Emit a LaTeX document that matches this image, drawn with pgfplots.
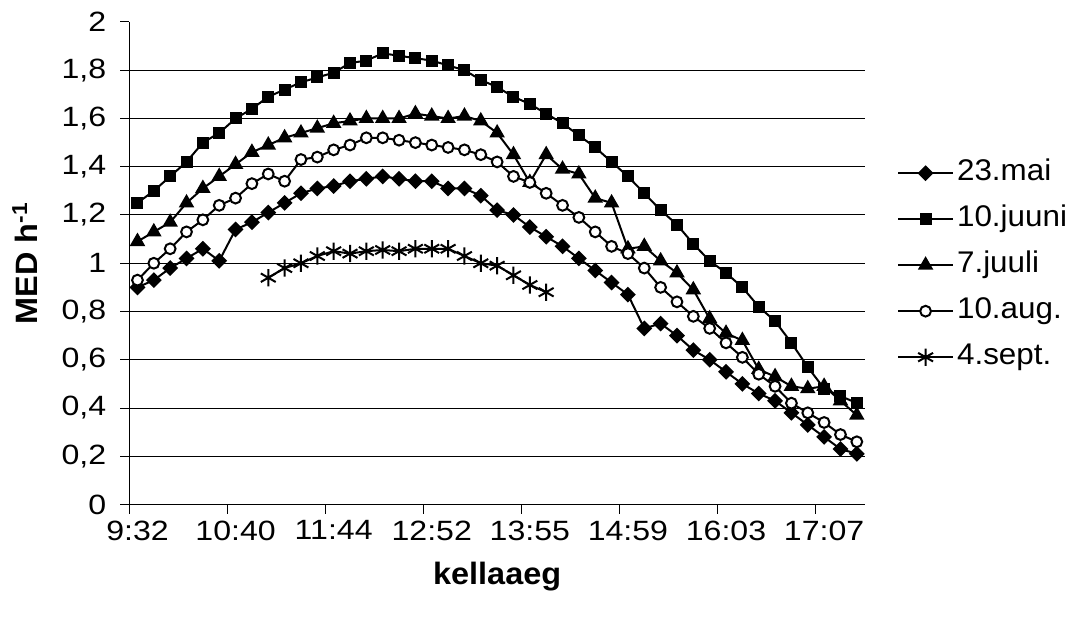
\documentclass[border=0pt]{standalone}
\usepackage{fontspec}
\setmainfont{Liberation Sans}[FakeStretch=1.05]
\newfontfamily\tickfont{Liberation Sans}[FakeStretch=1.15]
\usepackage{pgfplots}
\pgfplotsset{compat=1.18}
\begin{document}
\begin{tikzpicture}
\path[use as bounding box] (-64.65bp,-58.25bp) rectangle (471.35bp,252.25bp);
\begin{axis}[
  at={(0,0)}, anchor=south west,
  scale only axis, width=367.85bp, height=241.25bp,
  xmin=-0.5, xmax=44.5, ymin=0, ymax=2,
  axis x line*=bottom, axis y line*=left,
  axis line style={line width=0.5bp, black},
  /pgf/number format/assume math mode=true,
  xtick={0,6,...,42},
  xticklabels={9:32,10:40,11:44,12:52,13:55,14:59,16:03,17:07},
  major x tick style={draw=none},
  minor xtick={-0.5,5.5,11.5,17.5,23.5,29.5,35.5,41.5},
  minor x tick style={line width=0.5bp, black},
  minor tick length=4.5bp,
  major tick length=4.5bp,
  tick align=outside,
  ytick={0,0.2,0.4,0.6,0.8,1,1.2,1.4,1.6,1.8},
  extra y ticks={2},
  extra y tick style={grid=none},
  ymajorgrids,
  major grid style={line width=0.5bp, black},
  y tick style={line width=0.5bp, black},
  y tick label style={/pgf/number format/.cd, fixed, precision=1, use comma, /tikz/.cd, xshift=-3.5bp},
  tick label style={font=\tickfont\fontsize{14}{16}\selectfont},
  xlabel={kellaaeg},
  ylabel={MED h\textsuperscript{-1}},
  label style={font=\bfseries\fontsize{15.5}{18}\selectfont},
  xlabel style={at={(axis description cs:0.5,-0.1503)}, anchor=center},
  ylabel style={at={(axis description cs:-0.1418,0.5)}, anchor=center},
  legend style={at={(axis description cs:1,0.496)}, xshift=15.85bp, anchor=west,
    draw=none, fill=none, inner sep=0pt, row sep=5.5bp,
    font=\fontsize{15}{18}\selectfont,
    nodes={inner sep=1.5bp, text height=11bp, text depth=3.5bp}},
  legend cell align=left,
  legend image code/.code={\draw[mark repeat=2,mark phase=2] plot coordinates {(0bp,0bp) (13.75bp,0bp) (27.5bp,0bp)};},
]
% 23.mai
\addplot[black, line width=1bp, mark=square*, mark size=2.3bp, mark options={rotate=45, solid, fill=black}] coordinates {
(0,0.90) (1,0.93) (2,0.98) (3,1.02) (4,1.06) (5,1.01) (6,1.14) (7,1.17) (8,1.21) (9,1.25)
(10,1.29) (11,1.31) (12,1.32) (13,1.34) (14,1.35) (15,1.36) (16,1.35) (17,1.34) (18,1.34) (19,1.31)
(20,1.31) (21,1.28) (22,1.22) (23,1.20) (24,1.15) (25,1.11) (26,1.07) (27,1.02) (28,0.97) (29,0.92)
(30,0.87) (31,0.73) (32,0.75) (33,0.70) (34,0.64) (35,0.60) (36,0.55) (37,0.50) (38,0.46) (39,0.43)
(40,0.38) (41,0.33) (42,0.28) (43,0.23) (44,0.21)};
% 10.juuni
\addplot[black, line width=1bp, mark=square*, mark size=2.5bp, mark options={solid, fill=black}] coordinates {
(0,1.25) (1,1.30) (2,1.36) (3,1.42) (4,1.50) (5,1.54) (6,1.60) (7,1.64) (8,1.69) (9,1.72)
(10,1.75) (11,1.77) (12,1.79) (13,1.83) (14,1.84) (15,1.87) (16,1.86) (17,1.85) (18,1.84) (19,1.82)
(20,1.80) (21,1.76) (22,1.73) (23,1.69) (24,1.66) (25,1.62) (26,1.58) (27,1.53) (28,1.48) (29,1.42)
(30,1.36) (31,1.29) (32,1.22) (33,1.16) (34,1.08) (35,1.01) (36,0.96) (37,0.90) (38,0.82) (39,0.76)
(40,0.67) (41,0.57) (42,0.48) (43,0.45) (44,0.42)};
% 7.juuli
\addplot[black, line width=1bp, mark=triangle*, mark size=3.5bp, mark options={solid, fill=black}] coordinates {
(0,1.09) (1,1.13) (2,1.17) (3,1.25) (4,1.31) (5,1.36) (6,1.41) (7,1.46) (8,1.49) (9,1.52)
(10,1.54) (11,1.56) (12,1.58) (13,1.59) (14,1.60) (15,1.60) (16,1.60) (17,1.62) (18,1.61) (19,1.60)
(20,1.61) (21,1.59) (22,1.54) (23,1.45) (24,1.335) (25,1.45) (26,1.39) (27,1.37) (28,1.27) (29,1.25)
(30,1.06) (31,1.07) (32,1.01) (33,0.96) (34,0.89) (35,0.77) (36,0.71) (37,0.68) (38,0.56) (39,0.53)
(40,0.49) (41,0.48) (42,0.49) (43,0.43) (44,0.37)};
% 10.aug.
\addplot[black, line width=1bp, mark=*, mark size=2.7bp, mark options={solid, fill=white, line width=1bp}] coordinates {
(0,0.93) (1,1.00) (2,1.06) (3,1.13) (4,1.18) (5,1.24) (6,1.27) (7,1.33) (8,1.37) (9,1.34)
(10,1.43) (11,1.44) (12,1.47) (13,1.49) (14,1.52) (15,1.52) (16,1.51) (17,1.50) (18,1.49) (19,1.48)
(20,1.47) (21,1.45) (22,1.42) (23,1.36) (24,1.335) (25,1.29) (26,1.24) (27,1.19) (28,1.13) (29,1.07)
(30,1.04) (31,0.98) (32,0.90) (33,0.84) (34,0.78) (35,0.73) (36,0.67) (37,0.61) (38,0.54) (39,0.49)
(40,0.42) (41,0.38) (42,0.34) (43,0.29) (44,0.26)};
% 4.sept.
\addplot[black, line width=1bp, mark=asterisk, mark size=4.3bp, mark options={solid}] coordinates {
(8,0.94) (9,0.98) (10,1.00) (11,1.03) (12,1.05) (13,1.04) (14,1.05) (15,1.055) (16,1.05) (17,1.06)
(18,1.06) (19,1.06) (20,1.03) (21,1.00) (22,0.99) (23,0.95) (24,0.91) (25,0.88)};
\legend{23.mai,10.juuni,7.juuli,10.aug.,4.sept.}
\end{axis}
\end{tikzpicture}
\end{document}
